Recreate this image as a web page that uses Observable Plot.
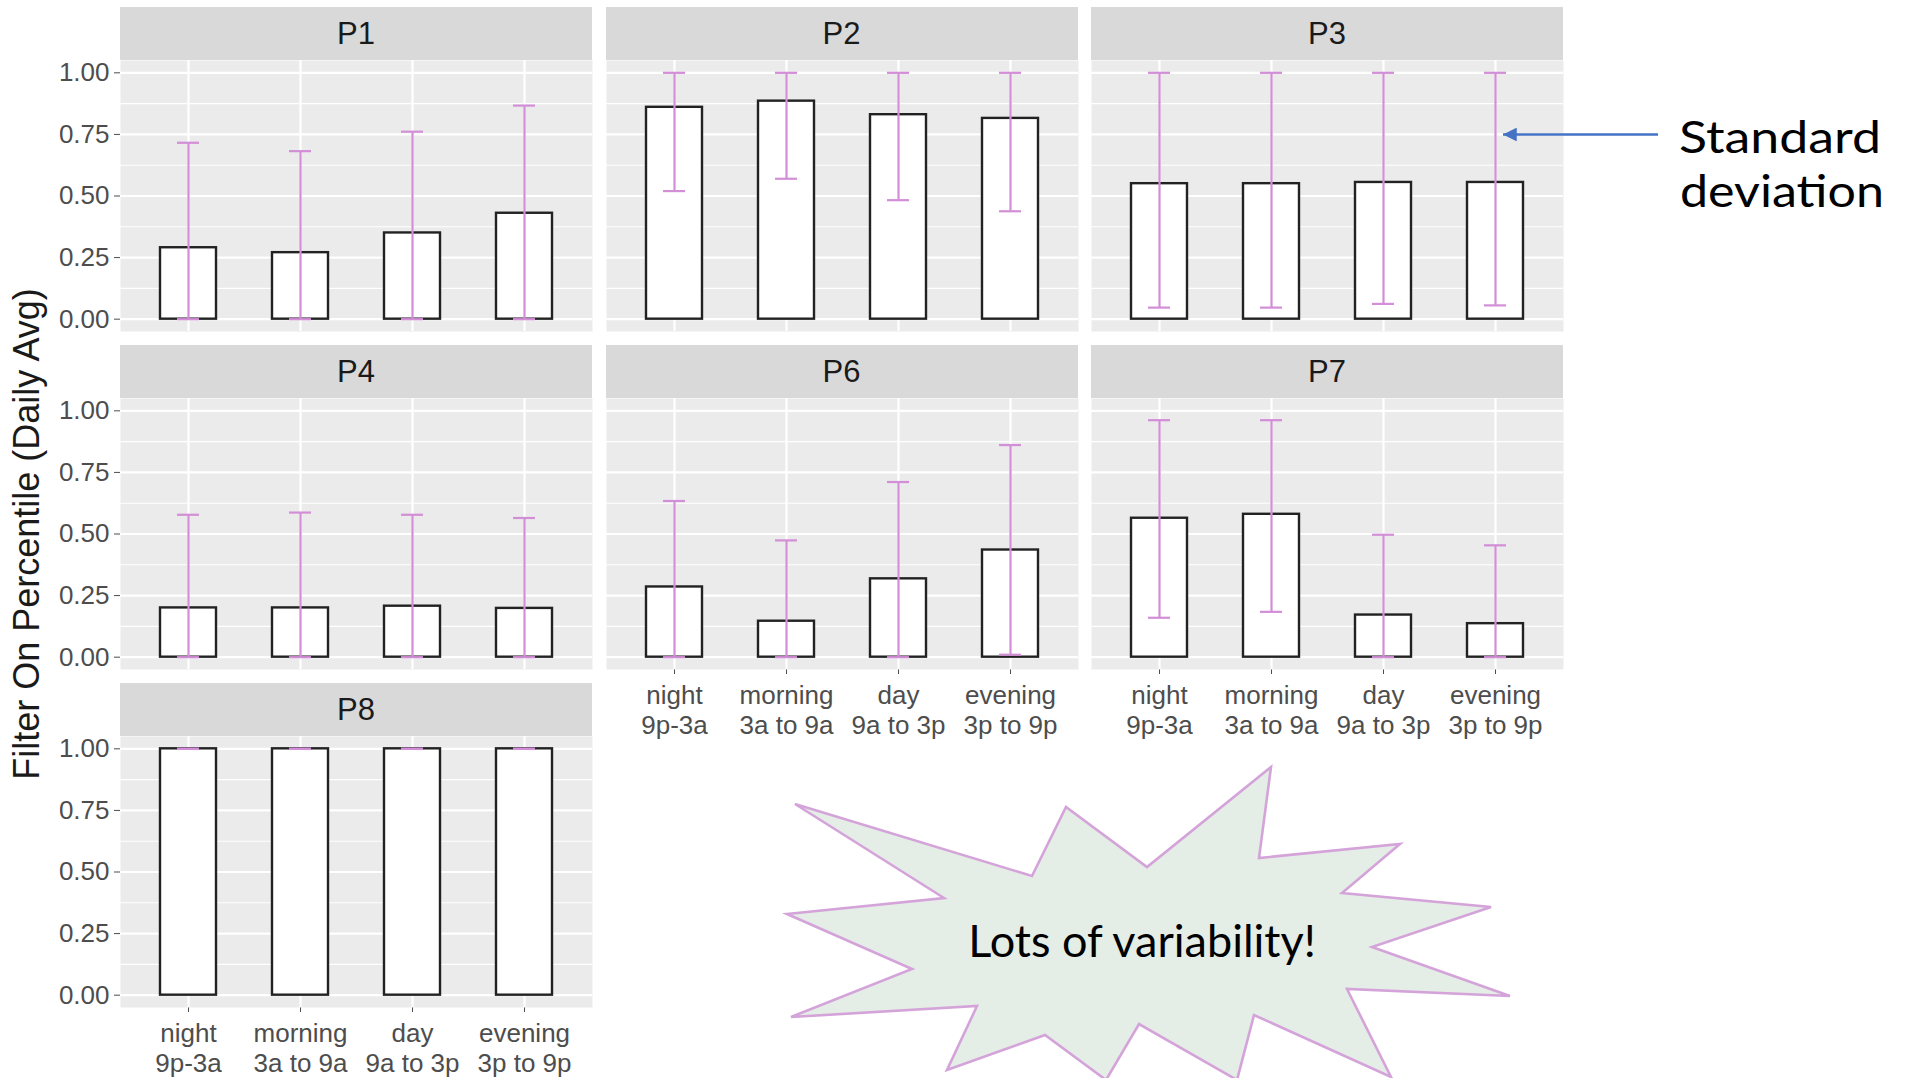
<!DOCTYPE html>
<html>
<head>
<meta charset="utf-8">
<script src="https://cdn.jsdelivr.net/npm/d3@7"></script>
<script src="https://cdn.jsdelivr.net/npm/@observablehq/plot@0.6"></script>
<style>
  html, body { margin: 0; padding: 0; background: #fff; }
  #root { position: relative; width: 1914px; height: 1078px; overflow: hidden; font-family: "Liberation Sans", Arial, sans-serif; }
  .strip { position: absolute; background: #D9D9D9; color: #1A1A1A; font-size: 31px; display: flex; align-items: center; justify-content: center; }
  .panel { position: absolute; }
  .panel svg { overflow: visible; display: block; }
  #overlay { position: absolute; left: 0; top: 0; pointer-events: none; }
</style>
</head>
<body>
<div id="root"></div>
<script>
// ---------- data ----------
const periods = ["night", "morning", "day", "evening"];
const periodLabels = ["night\n9p-3a", "morning\n3a to 9a", "day\n9a to 3p", "evening\n3p to 9p"];
const participants = ["P1", "P2", "P3", "P4", "P6", "P7", "P8"];
const yTickValues = [0, 0.25, 0.5, 0.75, 1];
const yMinorValues = [0.125, 0.375, 0.625, 0.875];

// mean of daily filter-on percentile per period
const p1Mean = [0.29, 0.27, 0.35, 0.43];
const p2Mean = [0.86, 0.885, 0.83, 0.815];
const p3Mean = [0.55, 0.55, 0.555, 0.555];
const p4Mean = [0.20, 0.20, 0.207, 0.198];
const p6Mean = [0.285, 0.146, 0.318, 0.435];
const p7Mean = [0.564, 0.58, 0.171, 0.136];
const p8Mean = [1, 1, 1, 1];

// lower end of the standard-deviation bar
const p1Low = [0, 0, 0, 0];
const p2Low = [0.52, 0.57, 0.483, 0.438];
const p3Low = [0.047, 0.047, 0.062, 0.056];
const p4Low = [0, 0, 0, 0];
const p6Low = [0, 0, 0, 0.01];
const p7Low = [0.16, 0.184, 0, 0];
const p8Low = [1, 1, 1, 1];

// upper end of the standard-deviation bar
const p1High = [0.716, 0.682, 0.761, 0.867];
const p2High = [1, 1, 1, 1];
const p3High = [1, 1, 1, 1];
const p4High = [0.578, 0.587, 0.578, 0.565];
const p6High = [0.634, 0.474, 0.711, 0.861];
const p7High = [0.962, 0.962, 0.497, 0.454];
const p8High = [1, 1, 1, 1];

const meanSeries = [p1Mean, p2Mean, p3Mean, p4Mean, p6Mean, p7Mean, p8Mean];
const lowSeries = [p1Low, p2Low, p3Low, p4Low, p6Low, p7Low, p8Low];
const highSeries = [p1High, p2High, p3High, p4High, p6High, p7High, p8High];

// ---------- layout ----------
const colX = [120, 605.5, 1091];
const stripTop = [7, 345, 683];
const stripH = 53, panelW = 472, panelH = 271;
const gridPos = [[0,0],[1,0],[2,0],[0,1],[1,1],[2,1],[0,2]]; // [col,row]
const showYAxis = [true, false, false, true, false, false, true];
const showXAxis = [false, false, false, false, true, true, true];
const errColor = "#D28ED6";
const fontFam = "Liberation Sans, Arial, sans-serif";

const root = document.getElementById("root");

participants.forEach((name, k) => {
  const [c, r] = gridPos[k];
  const rows = periods.map((p, i) => ({
    period: p, label: periodLabels[i],
    mean: meanSeries[k][i], lo: lowSeries[k][i], hi: highSeries[k][i]
  }));
  const mL = showYAxis[k] ? 120 : 0;
  const mB = showXAxis[k] ? 75 : 0;

  const strip = document.createElement("div");
  strip.className = "strip";
  strip.style.left = colX[c] + "px";
  strip.style.top = stripTop[r] + "px";
  strip.style.width = panelW + "px";
  strip.style.height = stripH + "px";
  strip.textContent = name;
  root.appendChild(strip);

  const chart = Plot.plot({
    width: panelW + mL,
    height: panelH + mB,
    marginLeft: mL, marginRight: 0, marginTop: 0, marginBottom: mB,
    style: { background: "transparent", fontSize: "26px", fontFamily: fontFam, color: "#4D4D4D", overflow: "visible" },
    x: { type: "band", domain: periods, paddingInner: 0.5, paddingOuter: 0.35,
         axis: showXAxis[k] ? "bottom" : null, tickSize: 5, tickFormat: () => "", label: null },
    y: { domain: [-0.05, 1.05], axis: showYAxis[k] ? "left" : null, ticks: yTickValues,
         tickFormat: d3.format(".2f"), tickSize: 6, tickPadding: 5, label: null },
    marks: [
      Plot.frame({ fill: "#EBEBEB", stroke: null }),
      Plot.ruleY(yMinorValues, { stroke: "#ffffff", strokeWidth: 1.1 }),
      Plot.ruleY(yTickValues, { stroke: "#ffffff", strokeWidth: 2.2 }),
      Plot.ruleX(periods, { x: d => d, stroke: "#ffffff", strokeWidth: 2.2 }),
      Plot.barY(rows, { x: "period", y: "mean", fill: "#ffffff", stroke: "#222222", strokeWidth: 2.4 }),
      Plot.ruleX(rows, { x: "period", y1: "lo", y2: "hi", stroke: errColor, strokeWidth: 2.2 }),
      Plot.tickY(rows, { x: "period", y: "hi", stroke: errColor, strokeWidth: 2.2, insetLeft: 17, insetRight: 17 }),
      Plot.tickY(rows, { x: "period", y: "lo", stroke: errColor, strokeWidth: 2.2, insetLeft: 17, insetRight: 17 }),
      showXAxis[k] ? Plot.text(rows, { x: "period", text: "label", frameAnchor: "bottom", lineAnchor: "top",
          dy: 13, lineHeight: 1.15, fontSize: 26, fill: "#4D4D4D" }) : null
    ]
  });
  const holder = document.createElement("div");
  holder.className = "panel";
  holder.style.left = (colX[c] - mL) + "px";
  holder.style.top = (stripTop[r] + stripH) + "px";
  holder.appendChild(chart);
  root.appendChild(holder);
});

// ---------- annotations ----------
const starPoints = [
  [795,804],[1032,876],[1066,807],[1147,867],[1271,767],[1259,858],[1400,844],[1342,893],
  [1491,907],[1372,947],[1510,996],[1347,989],[1391,1077],[1254,1015],[1237,1080],[1139,1024],
  [1106,1080],[1045,1035],[947,1070],[977,1006],[791,1017],[912,969],[787,914],[944,898]
];
const svgNS = "http://www.w3.org/2000/svg";
const ov = document.createElementNS(svgNS, "svg");
ov.setAttribute("id", "overlay");
ov.setAttribute("width", 1914);
ov.setAttribute("height", 1078);
ov.innerHTML = `
  <defs>
    <marker id="ah" viewBox="0 0 10 10" refX="10" refY="5" markerWidth="7" markerHeight="5.5" markerUnits="strokeWidth" orient="auto-start-reverse">
      <path d="M0,0 L10,5 L0,10 z" fill="#4472C4"/>
    </marker>
  </defs>
  <polygon points="${starPoints.map(p => p.join(",")).join(" ")}" fill="#E5EDE7" stroke="#D4A3D9" stroke-width="2.6" stroke-linejoin="miter"/>
  <text x="1142" y="957" text-anchor="middle" font-family="Lato, 'Open Sans', sans-serif" font-size="45" fill="#000">Lots of variability!</text>
  <line x1="1658" y1="134.5" x2="1503" y2="134.5" stroke="#4472C4" stroke-width="2.5" marker-end="url(#ah)"/>
  <text x="1679" y="153" font-family="Lato, 'Open Sans', sans-serif" font-size="44" fill="#000" textLength="202" lengthAdjust="spacingAndGlyphs">Standard</text>
  <text x="1680" y="207" font-family="Lato, 'Open Sans', sans-serif" font-size="44" fill="#000" textLength="204" lengthAdjust="spacingAndGlyphs">deviation</text>
  <text transform="translate(39,534) rotate(-90)" text-anchor="middle" font-family="${fontFam}" font-size="36" fill="#1A1A1A">Filter On Percentile (Daily Avg)</text>
`;
root.appendChild(ov);
</script>
</body>
</html>
